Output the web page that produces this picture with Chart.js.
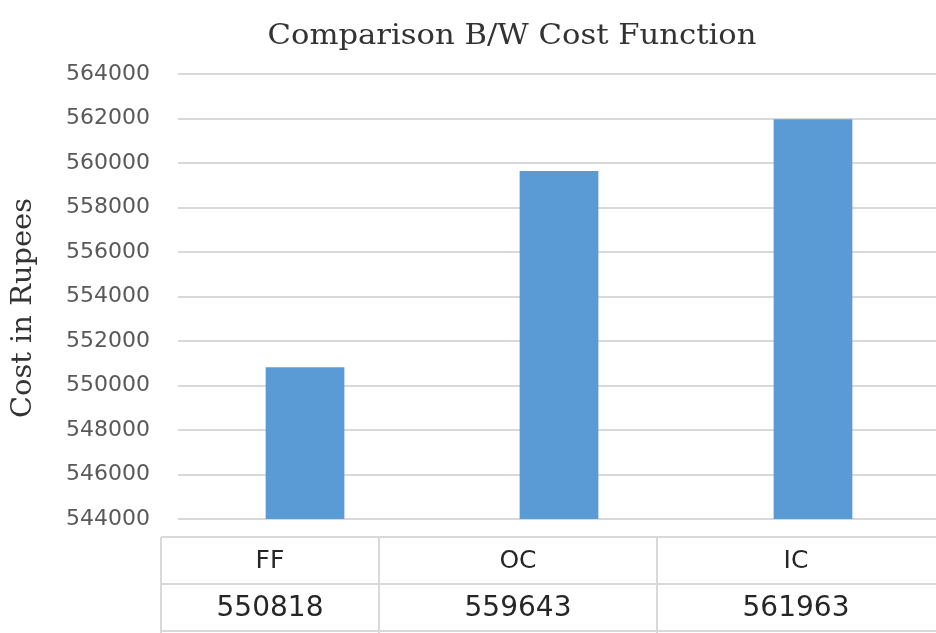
<!DOCTYPE html>
<html><head><meta charset="utf-8">
<script src="https://cdn.jsdelivr.net/npm/chart.js@4/dist/chart.umd.min.js"></script>
<style>html,body{margin:0;padding:0;overflow:hidden;background:#fff}#wrap{width:944px;height:633px;position:relative}</style>
</head><body><div id="wrap"><canvas id="c" width="944" height="633"></canvas></div>
<script>
const chartTitle = 'Comparison B/W Cost Function';
const yAxisTitle = 'Cost in Rupees';
const categories = ['FF', 'OC', 'IC'];
const costValues = [550818, 559643, 561963];
const yMin = 544000;
const yMax = 564000;
const yStep = 2000;

const gridColor = '#d9d9d9';

function drawStretched(ctx, text, font, width) {
  ctx.font = font;
  const w = ctx.measureText(text).width;
  ctx.scale(width / w, 1);
  ctx.fillText(text, 0, 0);
}

const titlePlugin = {
  id: 'customTitles',
  afterDraw(chart) {
    const ctx = chart.ctx;
    ctx.save();
    ctx.fillStyle = '#333333';
    ctx.textAlign = 'center';
    ctx.textBaseline = 'middle';
    ctx.translate(512, 37);
    drawStretched(ctx, chartTitle, '27px "DejaVu Serif"', 489);
    ctx.restore();

    ctx.save();
    ctx.fillStyle = '#333333';
    ctx.textAlign = 'center';
    ctx.textBaseline = 'middle';
    ctx.translate(24, 308);
    ctx.rotate(-Math.PI / 2);
    drawStretched(ctx, yAxisTitle, '27px "DejaVu Serif"', 220);
    ctx.restore();
  }
};

const tablePlugin = {
  id: 'dataTable',
  afterDraw(chart) {
    const ctx = chart.ctx;
    const area = chart.chartArea;
    const edges = [161, 379, 657, 935];
    const top = area.bottom + 18;
    const mid = top + 47;
    const bot = mid + 47;
    ctx.save();
    ctx.strokeStyle = gridColor;
    ctx.lineWidth = 2;
    ctx.beginPath();
    [top, mid, bot].forEach(y => { ctx.moveTo(edges[0], y); ctx.lineTo(chart.width, y); });
    edges.slice(0, 3).forEach(x => { ctx.moveTo(x, top); ctx.lineTo(x, chart.height); });
    ctx.stroke();
    ctx.fillStyle = '#262626';
    ctx.textAlign = 'center';
    ctx.textBaseline = 'middle';
    categories.forEach((c, i) => {
      const cx = (edges[i] + edges[i + 1]) / 2;
      ctx.font = '25px "DejaVu Sans"';
      ctx.fillText(c, cx, (top + mid) / 2 + 1);
      ctx.font = '28px "DejaVu Sans"';
      ctx.fillText(String(costValues[i]), cx, (mid + bot) / 2 + 1);
    });
    ctx.restore();
  }
};

new Chart(document.getElementById('c'), {
  type: 'bar',
  data: {
    labels: categories,
    datasets: [{
      data: costValues,
      backgroundColor: '#5b9bd5',
      borderWidth: 0,
      categoryPercentage: 1,
      barPercentage: 0.31
    }]
  },
  options: {
    responsive: false,
    animation: false,
    devicePixelRatio: 1,
    layout: { padding: { top: 74, bottom: 114, left: 0, right: 4 } },
    plugins: { legend: { display: false }, title: { display: false }, tooltip: { enabled: false } },
    scales: {
      x: { display: false },
      y: {
        min: yMin,
        max: yMax,
        afterFit(s) { s.width = 178; },
        ticks: {
          stepSize: yStep,
          padding: 28,
          color: '#595959',
          font: { family: 'DejaVu Sans', size: 22 },
          callback: v => String(v)
        },
        grid: { color: gridColor, lineWidth: 2, drawTicks: false },
        border: { display: false },
        title: { display: false }
      }
    }
  },
  plugins: [titlePlugin, tablePlugin]
});
</script>
</body></html>
